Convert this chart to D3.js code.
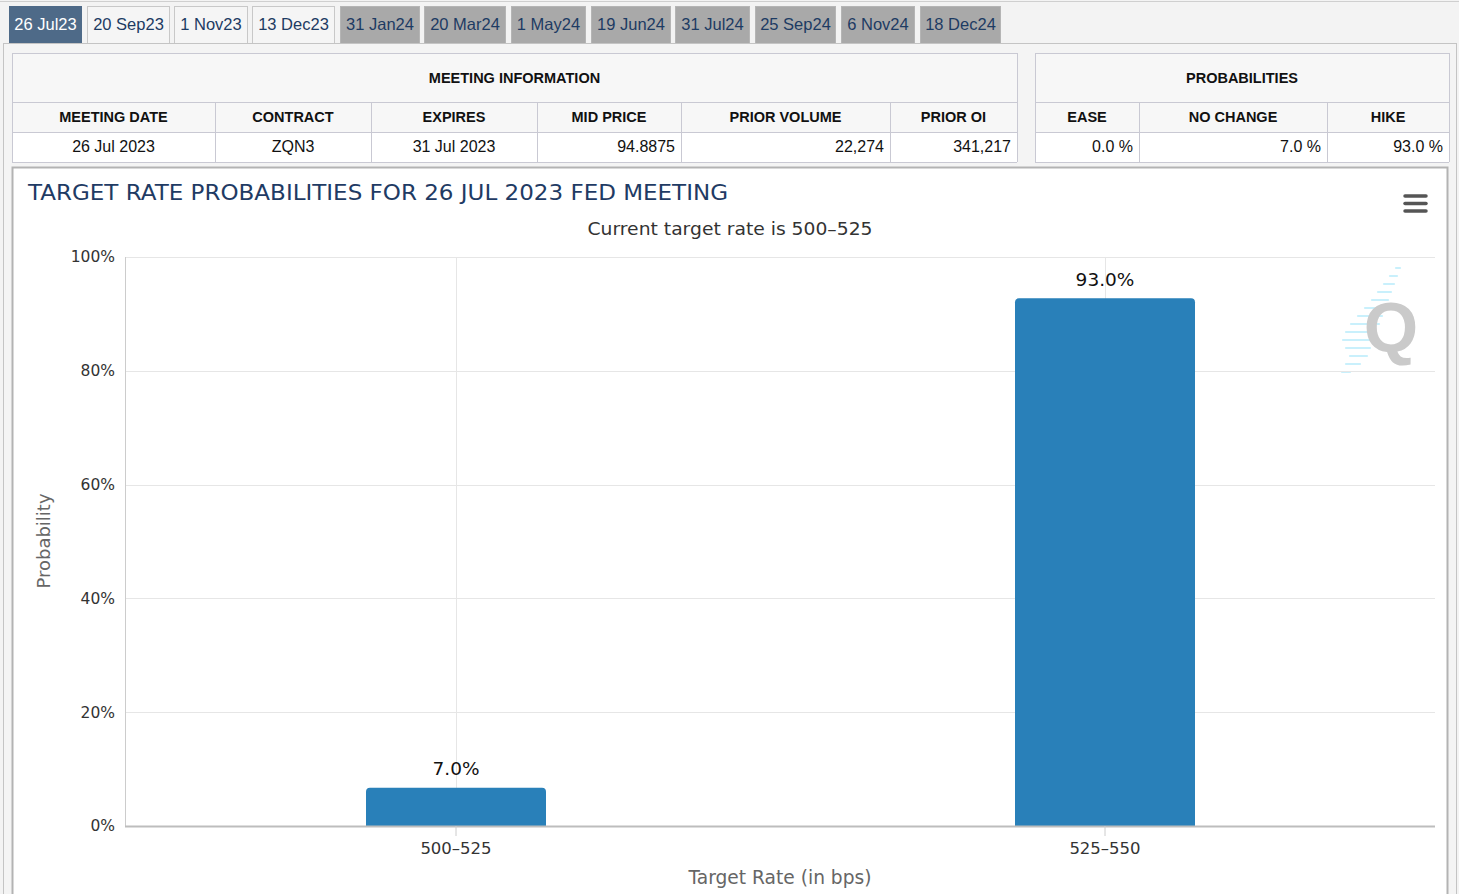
<!DOCTYPE html>
<html>
<head>
<meta charset="utf-8">
<script src="https://cdn.jsdelivr.net/npm/d3@7"></script>
<style>
  html, body { margin: 0; padding: 0; background: #f3f3f3; }
  svg { display: block; }
</style>
</head>
<body>
<svg id="root" width="1459" height="894"></svg>
<script>
// ---------- DATA ----------
const tabLabels = ["26 Jul23","20 Sep23","1 Nov23","13 Dec23","31 Jan24","20 Mar24","1 May24","19 Jun24","31 Jul24","25 Sep24","6 Nov24","18 Dec24"];
const tabStates = ["active","light","light","light","grey","grey","grey","grey","grey","grey","grey","grey"];

const meetingTitle = "MEETING INFORMATION";
const meetingHeaders = ["MEETING DATE","CONTRACT","EXPIRES","MID PRICE","PRIOR VOLUME","PRIOR OI"];
const meetingValues = ["26 Jul 2023","ZQN3","31 Jul 2023","94.8875","22,274","341,217"];
const meetingAlign = ["middle","middle","middle","end","end","end"];

const probTitle = "PROBABILITIES";
const probHeaders = ["EASE","NO CHANGE","HIKE"];
const probValues = ["0.0 %","7.0 %","93.0 %"];

const chartTitle = "TARGET RATE PROBABILITIES FOR 26 JUL 2023 FED MEETING";
const chartSubtitle = "Current target rate is 500\u2013525";
const categories = ["500\u2013525","525\u2013550"];
const probabilities = [7.0, 93.0];
const yTicks = [0, 20, 40, 60, 80, 100];
const yAxisTitle = "Probability";
const xAxisTitle = "Target Rate (in bps)";

// ---------- DRAW ----------
const svg = d3.select("#root");
const TF = "'Liberation Sans', Arial, sans-serif";
const CF = "'DejaVu Sans', 'Lucida Sans Unicode', sans-serif";

// page top line
svg.append("line").attr("x1",0).attr("x2",1459).attr("y1",1.5).attr("y2",1.5).attr("stroke","#cfcfcf");

// tabs
const tabEdges = [[9,82],[87,170],[174,248],[252,335],[340,420],[424,506],[511,586],[591,671],[675,750],[755,836],[841,915],[920,1001]];
const tabFill = {active:"#4e6a88", light:"#f5f5f5", grey:"#a9a9a9"};
const tabText = {active:"#ffffff", light:"#1d3b63", grey:"#1d3b63"};
const tabG = svg.append("g");
tabLabels.forEach((t,i)=>{
  const [a,b] = tabEdges[i];
  const st = tabStates[i];
  tabG.append("rect").attr("x",a+0.5).attr("y",6.5).attr("width",b-a-1).attr("height",37)
    .attr("fill",tabFill[st]).attr("stroke", st==="active" ? "#4e6a88" : (st==="grey" ? "#b5b5b5" : "#c8c8c8"));
  tabG.append("text").attr("x",(a+b)/2).attr("y",30).attr("text-anchor","middle")
    .attr("font-family",TF).attr("font-size",16.5).attr("fill",tabText[st]).text(t);
});

// outer panel
svg.append("rect").attr("x",3.5).attr("y",43.5).attr("width",1453).attr("height",860)
  .attr("fill","#f4f4f4").attr("stroke","#c4c4c4");

// table helper
function drawTable(x0, edges, title, headers, values, aligns) {
  const g = svg.append("g");
  const x1 = edges[edges.length-1];
  const rows = [53, 102, 132, 162];
  g.append("rect").attr("x",x0).attr("y",rows[0]).attr("width",x1-x0).attr("height",rows[2]-rows[0]).attr("fill","#f7f7f7");
  g.append("rect").attr("x",x0).attr("y",rows[2]).attr("width",x1-x0).attr("height",rows[3]-rows[2]).attr("fill","#ffffff");
  const bc = "#c9c9d3";
  rows.forEach(r=> g.append("line").attr("x1",x0).attr("x2",x1).attr("y1",r+0.5).attr("y2",r+0.5).attr("stroke",bc));
  g.append("line").attr("x1",x0+0.5).attr("x2",x0+0.5).attr("y1",rows[0]).attr("y2",rows[3]).attr("stroke",bc);
  g.append("line").attr("x1",x1+0.5).attr("x2",x1+0.5).attr("y1",rows[0]).attr("y2",rows[3]).attr("stroke",bc);
  edges.slice(0,-1).forEach((e,i)=>{ if(i>0) g.append("line").attr("x1",e+0.5).attr("x2",e+0.5).attr("y1",rows[1]).attr("y2",rows[3]).attr("stroke",bc); });
  g.append("text").attr("x",(x0+x1)/2).attr("y",83).attr("text-anchor","middle")
    .attr("font-family",TF).attr("font-weight","bold").attr("font-size",14.5).attr("fill","#111").text(title);
  headers.forEach((h,i)=>{
    const a = edges[i], b = edges[i+1];
    g.append("text").attr("x",(a+b)/2).attr("y",122).attr("text-anchor","middle")
      .attr("font-family",TF).attr("font-weight","bold").attr("font-size",14.5).attr("fill","#111").text(h);
    const al = aligns[i];
    g.append("text").attr("x", al==="middle" ? (a+b)/2 : b-6).attr("y",152).attr("text-anchor",al)
      .attr("font-family",TF).attr("font-size",16).attr("fill","#111").text(values[i]);
  });
}
drawTable(12, [12,215,371,537,681,890,1017], meetingTitle, meetingHeaders, meetingValues, meetingAlign);
drawTable(1035, [1035,1139,1327,1449], probTitle, probHeaders, probValues, ["end","end","end"]);

// chart container
svg.append("rect").attr("x",12.5).attr("y",167.5).attr("width",1435).attr("height",740)
  .attr("fill","#ffffff").attr("stroke","#b3b3b3").attr("stroke-width",2);

// title & subtitle
svg.append("text").attr("x",28).attr("y",200).attr("font-family",CF).attr("font-size",21.5)
  .attr("fill","#1f3b64").attr("textLength",700).attr("lengthAdjust","spacingAndGlyphs").text(chartTitle);
svg.append("text").attr("x",730).attr("y",235).attr("text-anchor","middle").attr("font-family",CF).attr("font-size",18)
  .attr("fill","#333").attr("textLength",285).attr("lengthAdjust","spacingAndGlyphs").text(chartSubtitle);

// menu icon
[196,203.5,211].forEach(y=> svg.append("line").attr("x1",1405).attr("x2",1426).attr("y1",y).attr("y2",y)
  .attr("stroke","#555").attr("stroke-width",3.5).attr("stroke-linecap","round"));

// plot
const plotL = 125, plotR = 1435, plotT = 257, plotB = 826;
const y = d3.scaleLinear().domain([0,100]).range([plotB, plotT]);
const x = d3.scaleBand().domain(categories).range([131.5, 1429.5]);
const cx = c => x(c) + x.bandwidth()/2;
const barW = 180;

// watermark (decorative logo)
const wm = svg.append("g");
const stripes = [[1396,268,1400],[1390,276,1397],[1384,284,1394],[1378,292,1391],[1372,300,1388],[1365,308,1385],
                 [1358,316,1382],[1351,324,1379],[1346,332,1376],[1343,340,1373],[1346,348,1370],[1350,356,1367],
                 [1346,364,1360],[1342,372,1350]];
stripes.forEach(([a,yy,b])=>{
  wm.append("line").attr("x1",a).attr("x2",b).attr("y1",yy).attr("y2",yy)
    .attr("stroke","#c9f0fc").attr("stroke-width",2.2).attr("stroke-linecap","round");
});
wm.append("text").attr("x",1391).attr("y",352).attr("text-anchor","middle").attr("font-family",TF)
  .attr("font-weight","bold").attr("font-size",70).attr("fill","#cacaca").text("Q");

// y grid
svg.append("g").selectAll("line").data(yTicks).join("line")
  .attr("x1",plotL).attr("x2",plotR).attr("y1",d=>Math.round(y(d))+0.5).attr("y2",d=>Math.round(y(d))+0.5)
  .attr("stroke","#e6e6e6");
// x grid
svg.append("g").selectAll("line").data(categories).join("line")
  .attr("x1",d=>Math.round(cx(d))+0.5).attr("x2",d=>Math.round(cx(d))+0.5).attr("y1",plotT).attr("y2",plotB)
  .attr("stroke","#e6e6e6");
// y axis line
svg.append("line").attr("x1",plotL+0.5).attr("x2",plotL+0.5).attr("y1",plotT).attr("y2",plotB).attr("stroke","#cccccc");

// y axis labels via d3 axis
const yAxisG = svg.append("g").attr("transform",`translate(${plotL-10},0)`)
  .call(d3.axisLeft(y).tickValues(yTicks).tickSize(0).tickPadding(0).tickFormat(d=>d+"%"));
yAxisG.select(".domain").remove();
yAxisG.selectAll("text").attr("font-family",CF).attr("font-size",15.5).attr("fill","#333").attr("dy","0.32em");

// bars
const barPath = (x0, y0, w, h, r) => `M${x0},${y0+h}V${y0+r}Q${x0},${y0} ${x0+r},${y0}H${x0+w-r}Q${x0+w},${y0} ${x0+w},${y0+r}V${y0+h}Z`;
svg.append("g").selectAll("path").data(probabilities).join("path")
  .attr("d",(d,i)=> barPath(cx(categories[i])-barW/2, y(d)+1.5, barW, plotB - y(d) - 1.5, 4))
  .attr("fill","#2980b9");
// data labels
svg.append("g").selectAll("text").data(probabilities).join("text")
  .attr("x",(d,i)=>cx(categories[i])).attr("y",d=>y(d)-11).attr("text-anchor","middle")
  .attr("font-family",CF).attr("font-size",18.5).attr("fill","#111").text(d=>d.toFixed(1)+"%");

// x axis
svg.append("line").attr("x1",plotL).attr("x2",plotR).attr("y1",plotB+0.5).attr("y2",plotB+0.5).attr("stroke","#bdbdbd").attr("stroke-width",2);
const xAxisG = svg.append("g").attr("transform",`translate(0,${plotB})`)
  .call(d3.axisBottom(x).tickSize(10).tickPadding(6));
xAxisG.select(".domain").remove();
xAxisG.selectAll(".tick line").attr("stroke","#cccccc");
xAxisG.selectAll(".tick text").attr("font-family",CF).attr("font-size",16.5).attr("fill","#333");

// axis titles
svg.append("text").attr("transform","translate(50,541) rotate(-90)").attr("text-anchor","middle")
  .attr("font-family",CF).attr("font-size",18).attr("fill","#666").text(yAxisTitle);
svg.append("text").attr("x",780).attr("y",884).attr("text-anchor","middle")
  .attr("font-family",CF).attr("font-size",19).attr("fill","#666").attr("textLength",183).attr("lengthAdjust","spacingAndGlyphs").text(xAxisTitle);
</script>
</body>
</html>
